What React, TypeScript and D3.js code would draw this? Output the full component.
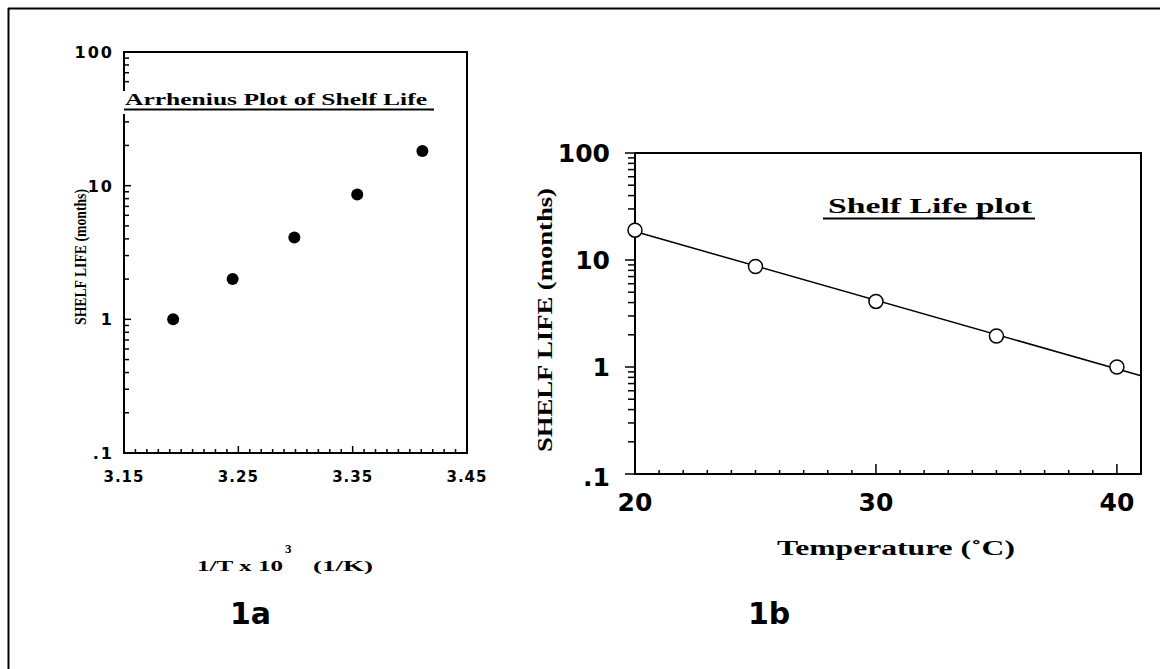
import React from "react";
import * as d3 from "d3";

// Fig 1a: Arrhenius plot
const invT = [3.193, 3.245, 3.299, 3.354, 3.411];
const shelfLifeA = [1.0, 2.0, 4.1, 8.6, 18.2];
const xTicksA = [3.15, 3.25, 3.35, 3.45];
const xTickLabelsA = ["3.15", "3.25", "3.35", "3.45"];

// Fig 1b: Shelf life vs temperature
const tempC = [20, 25, 30, 35, 40];
const shelfLifeB = [19, 8.7, 4.1, 1.95, 1.0];
const xTicksB = [20, 30, 40];

const yMajor = [0.1, 1, 10, 100];
const yLabels = [".1", "1", "10", "100"];

const SERIF = "'Liberation Serif', 'Times New Roman', serif";
const SANS = "'DejaVu Sans', 'Liberation Sans', sans-serif";

export default function App() {
  // ---------- chart A ----------
  const xA = d3.scaleLinear().domain([3.15, 3.45]).range([124, 467]);
  const yA = d3.scaleLog().domain([0.1, 100]).range([453, 52]);
  const minorXA = d3.range(0, 31).map((i) => 3.15 + i * 0.01);
  const yTicksAll = yA.ticks();

  // ---------- chart B ----------
  const xB = d3.scaleLinear().domain([20, 41]).range([635, 1141]);
  const yB = d3.scaleLog().domain([0.1, 100]).range([474, 153]);
  const minorXB = d3.range(20, 42, 1);

  // regression in log space
  const logs = shelfLifeB.map((v) => Math.log10(v));
  const mx = d3.mean(tempC)!;
  const my = d3.mean(logs)!;
  const slope =
    d3.sum(tempC.map((t, i) => (t - mx) * (logs[i] - my))) /
    d3.sum(tempC.map((t) => (t - mx) ** 2));
  const icpt = my - slope * mx;
  const fit = (t: number) => Math.pow(10, icpt + slope * t);
  const line = d3
    .line<number>()
    .x((t) => xB(t))
    .y((t) => yB(fit(t)));

  const isMajor = (v: number) => yMajor.some((m) => Math.abs(m - v) < 1e-9);

  return (
    <svg
      width={1160}
      height={669}
      style={{ position: "absolute", left: 0, top: 0, background: "#fff" }}
    >
      <rect x={0} y={0} width={1160} height={669} fill="#fff" />
      {/* outer frame */}
      <line x1={8} y1={8.5} x2={1160} y2={8.5} stroke="#000" strokeWidth={2} />
      <line x1={8.5} y1={8} x2={8.5} y2={669} stroke="#000" strokeWidth={2} />

      {/* ===== Chart 1a ===== */}
      <g>
        <rect
          x={xA.range()[0]}
          y={yA.range()[1]}
          width={xA.range()[1] - xA.range()[0]}
          height={yA.range()[0] - yA.range()[1]}
          fill="none"
          stroke="#000"
          strokeWidth={2}
        />
        {/* y ticks inward */}
        {yTicksAll.map((v, i) => (
          <line
            key={"ya" + i}
            x1={124}
            x2={124 + (isMajor(v) ? 7 : 5)}
            y1={yA(v)}
            y2={yA(v)}
            stroke="#000"
            strokeWidth={1.5}
          />
        ))}
        {/* x ticks inward */}
        {minorXA.map((v, i) => (
          <line
            key={"xa" + i}
            x1={xA(v)}
            x2={xA(v)}
            y1={453}
            y2={453 - (i % 10 === 0 ? 7 : 4)}
            stroke="#000"
            strokeWidth={1.5}
          />
        ))}
        {/* y labels */}
        {yMajor.map((v, i) => (
          <text
            key={"yla" + i}
            x={114}
            y={yA(v) + 6}
            textAnchor="end"
            fontFamily={SANS}
            fontWeight="bold"
            fontSize={16}
            letterSpacing={2}
          >
            {yLabels[i]}
          </text>
        ))}
        {/* x labels */}
        {xTicksA.map((v, i) => (
          <text
            key={"xla" + i}
            x={xA(v)}
            y={482}
            textAnchor="middle"
            fontFamily={SANS}
            fontWeight="bold"
            fontSize={15}
            letterSpacing={1}
          >
            {xTickLabelsA[i]}
          </text>
        ))}
        {/* title with white background */}
        <rect x={118} y={91} width={320} height={23} fill="#fff" />
        <text
          x={125}
          y={105}
          fontFamily={SERIF}
          fontWeight="bold"
          fontSize={16}
          textLength={302}
          lengthAdjust="spacingAndGlyphs"
        >
          Arrhenius Plot of Shelf Life
        </text>
        <line x1={124} x2={434} y1={109.5} y2={109.5} stroke="#000" strokeWidth={2} />
        {/* points */}
        {invT.map((v, i) => (
          <circle key={"pa" + i} cx={xA(v)} cy={yA(shelfLifeA[i])} r={6} fill="#000" />
        ))}
        {/* y axis title */}
        <text
          transform="translate(86,257) rotate(-90)"
          textAnchor="middle"
          fontFamily={SERIF}
          fontWeight="bold"
          fontSize={16}
          textLength={136}
          lengthAdjust="spacingAndGlyphs"
        >
          SHELF LIFE (months)
        </text>
        {/* x axis title */}
        <text
          x={197}
          y={571}
          fontFamily={SERIF}
          fontWeight="bold"
          fontSize={15}
          textLength={86}
          lengthAdjust="spacingAndGlyphs"
        >
          1/T x 10
        </text>
        <text x={285} y={553} fontFamily={SERIF} fontWeight="bold" fontSize={13}>
          3
        </text>
        <text
          x={313}
          y={571}
          fontFamily={SERIF}
          fontWeight="bold"
          fontSize={15}
          textLength={60}
          lengthAdjust="spacingAndGlyphs"
        >
          (1/K)
        </text>
        <text x={230} y={624} fontFamily={SANS} fontWeight="bold" fontSize={30}>
          1a
        </text>
      </g>

      {/* ===== Chart 1b ===== */}
      <g>
        <rect
          x={xB.range()[0]}
          y={yB.range()[1]}
          width={xB.range()[1] - xB.range()[0]}
          height={yB.range()[0] - yB.range()[1]}
          fill="none"
          stroke="#000"
          strokeWidth={2}
        />
        {/* y ticks outward */}
        {yTicksAll.map((v, i) => (
          <line
            key={"yb" + i}
            x1={635}
            x2={635 - (isMajor(v) ? 10 : 7)}
            y1={yB(v)}
            y2={yB(v)}
            stroke="#000"
            strokeWidth={1.5}
          />
        ))}
        {/* x ticks inward */}
        {minorXB.map((v, i) => (
          <line
            key={"xb" + i}
            x1={xB(v)}
            x2={xB(v)}
            y1={474}
            y2={474 - (xTicksB.includes(v) ? 10 : 4)}
            stroke="#000"
            strokeWidth={1.5}
          />
        ))}
        {/* y labels */}
        {yMajor.map((v, i) => (
          <text
            key={"ylb" + i}
            x={610}
            y={yB(v) + (v === 0.1 ? 12 : 9)}
            textAnchor="end"
            fontFamily={SANS}
            fontWeight="bold"
            fontSize={25}
          >
            {yLabels[i]}
          </text>
        ))}
        {/* x labels */}
        {xTicksB.map((v, i) => (
          <text
            key={"xlb" + i}
            x={xB(v)}
            y={511}
            textAnchor="middle"
            fontFamily={SANS}
            fontWeight="bold"
            fontSize={25}
          >
            {String(v)}
          </text>
        ))}
        {/* regression line */}
        <path d={line([20, 41]) || ""} fill="none" stroke="#000" strokeWidth={1.5} />
        {/* points */}
        {tempC.map((t, i) => (
          <circle
            key={"pb" + i}
            cx={xB(t)}
            cy={yB(shelfLifeB[i])}
            r={7}
            fill="#fff"
            stroke="#000"
            strokeWidth={1.5}
          />
        ))}
        {/* title */}
        <text
          x={828}
          y={213}
          fontFamily={SERIF}
          fontWeight="bold"
          fontSize={20}
          textLength={204}
          lengthAdjust="spacingAndGlyphs"
        >
          Shelf Life plot
        </text>
        <line x1={823} x2={1035} y1={218.5} y2={218.5} stroke="#000" strokeWidth={2} />
        {/* y axis title */}
        <text
          transform="translate(552,320) rotate(-90)"
          textAnchor="middle"
          fontFamily={SERIF}
          fontWeight="bold"
          fontSize={22}
          textLength={264}
          lengthAdjust="spacingAndGlyphs"
        >
          SHELF LIFE (months)
        </text>
        {/* x axis title */}
        <text
          x={777}
          y={555}
          fontFamily={SERIF}
          fontWeight="bold"
          fontSize={20}
          textLength={238}
          lengthAdjust="spacingAndGlyphs"
        >
          Temperature  (˚C)
        </text>
        <text x={748} y={624} fontFamily={SANS} fontWeight="bold" fontSize={30}>
          1b
        </text>
      </g>
    </svg>
  );
}
